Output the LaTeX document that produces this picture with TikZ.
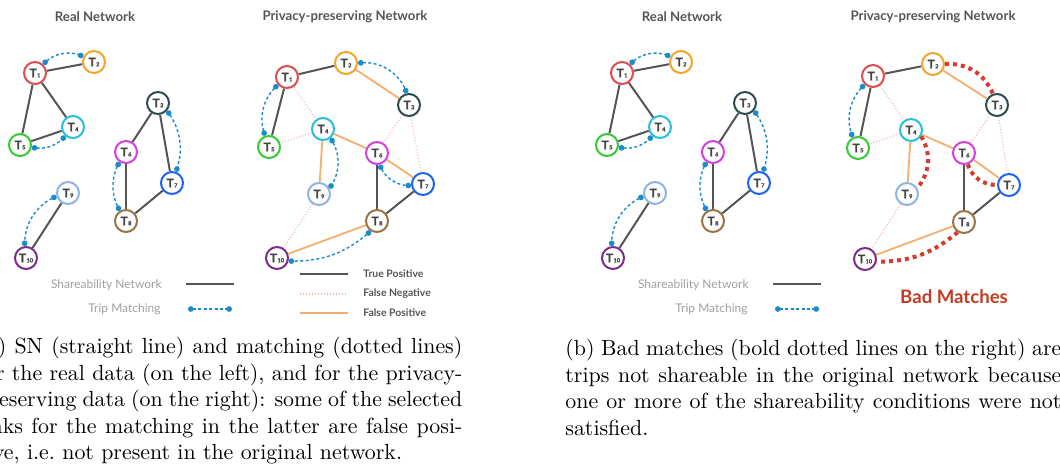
\documentclass[tikz,border=0pt]{standalone}
\usepackage{fontspec}
\usetikzlibrary{arrows.meta}
\newfontfamily\gill{Lato}[BoldFeatures={FakeBold=1.2}]

\definecolor{tone}{HTML}{E04B4B}
\definecolor{ttwo}{HTML}{F5A52A}
\definecolor{tthree}{HTML}{2E4B52}
\definecolor{tfour}{HTML}{27C0D8}
\definecolor{tfive}{HTML}{33CC33}
\definecolor{tsix}{HTML}{D43FE0}
\definecolor{tseven}{HTML}{1E64F0}
\definecolor{teight}{HTML}{9B7444}
\definecolor{tnine}{HTML}{8DB4E2}
\definecolor{tten}{HTML}{7D2C8E}
\definecolor{labgray}{HTML}{444444}
\definecolor{sngray}{HTML}{555555}
\definecolor{leggray}{HTML}{A0A0A0}
\definecolor{fnpink}{HTML}{F4B4B4}
\definecolor{fporange}{HTML}{F4AE6E}
\definecolor{mblue}{HTML}{1A8CCB}
\definecolor{badred}{HTML}{D63B30}
\definecolor{badtext}{HTML}{C23B22}

\newfontfamily\plain{Lato}
\newcommand{\tlab}[1]{T\kern0.2pt{\fontsize{2.8pt}{3pt}\selectfont #1}}

\begin{document}
\begin{tikzpicture}[
  x=0.5pt, y=-0.5pt,
  trip/.style={circle, draw, line width=1pt, fill=white, minimum size=11pt, inner sep=0pt, text=labgray, font=\gill\bfseries\fontsize{6}{6}\selectfont},
  title/.style={font=\plain\bfseries\fontsize{6.6}{7}\selectfont, text=sngray},
  sn/.style={draw=sngray, line width=1pt},
  fneg/.style={draw=fnpink, line width=0.6pt, dash pattern=on 0.5pt off 1pt},
  fpos/.style={draw=fporange, line width=0.9pt},
  match/.style={draw=mblue, line width=0.7pt, dash pattern=on 1.5pt off 1.2pt, {Circle[length=2.8pt]}-{Circle[length=2.8pt]}},
  bad/.style={draw=badred, line width=2pt, dash pattern=on 2pt off 2pt},
  legtext/.style={font=\plain\fontsize{6}{7}\selectfont, text=leggray, anchor=east, inner sep=0pt},
  keytext/.style={font=\plain\bfseries\fontsize{5.2}{6}\selectfont, text=sngray, anchor=west, inner sep=0pt},
  caption/.style={anchor=north west, inner sep=0pt, align=justify, font=\fontsize{10.95}{13.25}\selectfont}
]
\useasboundingbox (0,0) rectangle (1060,468);
\clip (0,0) rectangle (1060,468);

% Panel (a): titles
\node[title] (titlera) at (95,17) {Real Network};
\node[title] (titlepa) at (345,17) {Privacy-preserving Network};

% Panel (a): real network trips
\node[trip, draw=tone] (ra1) at (35,73) {\tlab{1}};
\node[trip, draw=ttwo] (ra2) at (94,62) {\tlab{2}};
\node[trip, draw=tthree] (ra3) at (158,103) {\tlab{3}};
\node[trip, draw=tfour] (ra4) at (73,127) {\tlab{4}};
\node[trip, draw=tfive] (ra5) at (20,145) {\tlab{5}};
\node[trip, draw=tsix] (ra6) at (126,152) {\tlab{6}};
\node[trip, draw=tseven] (ra7) at (172,183) {\tlab{7}};
\node[trip, draw=teight] (ra8) at (126,221) {\tlab{8}};
\node[trip, draw=tnine] (ra9) at (68,193) {\tlab{9}};
\node[trip, draw=tten] (ra10) at (26,258) {\tlab{10}};

% Panel (a): shareability links
\draw[sn] (ra1) -- (ra2);
\draw[sn] (ra1) -- (ra5);
\draw[sn] (ra1) -- (ra4);
\draw[sn] (ra4) -- (ra5);
\draw[sn] (ra3) -- (ra6);
\draw[sn] (ra3) -- (ra7);
\draw[sn] (ra6) -- (ra8);
\draw[sn] (ra7) -- (ra8);
\draw[sn] (ra9) -- (ra10);

% Panel (a): trip matching
\draw[match] (ra1.48) to[bend left=30] (ra2.152);
\draw[match] (ra5.-12) to[bend right=25] (ra4.-130);
\draw[match] (ra3.-40) to[bend left=25] (ra7.70);
\draw[match] (ra6.-124) to[bend right=25] (ra8.122);
\draw[match] (ra9.-165) to[bend right=30] (ra10.97);

% Panel (a): privacy-preserving trips
\node[trip, draw=tone] (pa1) at (287,77) {\tlab{1}};
\node[trip, draw=ttwo] (pa2) at (346,63) {\tlab{2}};
\node[trip, draw=tthree] (pa3) at (409,105) {\tlab{3}};
\node[trip, draw=tfour] (pa4) at (323,129) {\tlab{4}};
\node[trip, draw=tfive] (pa5) at (269,147) {\tlab{5}};
\node[trip, draw=tsix] (pa6) at (377,153) {\tlab{6}};
\node[trip, draw=tseven] (pa7) at (423,184) {\tlab{7}};
\node[trip, draw=teight] (pa8) at (377,221) {\tlab{8}};
\node[trip, draw=tnine] (pa9) at (319,194) {\tlab{9}};
\node[trip, draw=tten] (pa10) at (277,258) {\tlab{10}};

% Panel (a): true positives, false negatives, false positives
\draw[sn] (pa1) -- (pa2);
\draw[sn] (pa1) -- (pa5);
\draw[sn] (pa6) -- (pa8);
\draw[sn] (pa7) -- (pa8);
\draw[fneg] (pa1) -- (pa4);
\draw[fneg] (pa4) -- (pa5);
\draw[fneg] (pa3) -- (pa6);
\draw[fneg] (pa3) -- (pa7);
\draw[fneg] (pa9) -- (pa10);
\draw[fpos] (pa2) -- (pa3);
\draw[fpos] (pa4) -- (pa6);
\draw[fpos] (pa6) -- (pa7);
\draw[fpos] (pa4) -- (pa9);
\draw[fpos] (pa8) -- (pa10);

% Panel (a): matching on privacy data
\draw[match] (pa2.0) to[bend left=35] (pa3.100);
\draw[match] (pa1.-140) to[bend right=30] (pa5.110);
\draw[match] (pa4.-50) to[bend left=30] (pa9.28);
\draw[match] (pa6.-78) to[bend right=30] (pa7.-172);
\draw[match] (pa8.-122) to[bend left=20] (pa10.-15);

% Panel (a): legends
\node[legtext] (snleg-a) at (162,285) {Shareability Network};
\node[legtext] (tmleg-a) at (161,309) {Trip Matching};
\coordinate (sna-l) at (186,284);
\coordinate (sna-r) at (234,284);
\coordinate (tma-l) at (188,309);
\coordinate (tma-r) at (232,309);
\draw[sn] (sna-l) -- (sna-r);
\draw[match] (tma-l) -- (tma-r);
\coordinate (tp-l) at (300,274);
\coordinate (tp-r) at (348,274);
\coordinate (fn-l) at (300,294);
\coordinate (fn-r) at (348,294);
\coordinate (fp-l) at (300,313);
\coordinate (fp-r) at (348,313);
\draw[sn] (tp-l) -- (tp-r);
\draw[fneg] (fn-l) -- (fn-r);
\draw[fpos] (fp-l) -- (fp-r);
\node[keytext] (tpleg) at (363,274) {True Positive};
\node[keytext] (fnleg) at (363,294) {False Negative};
\node[keytext] (fpleg) at (363,313) {False Positive};

% Panel (b): titles
\node[title] (titlerb) at (682,17) {Real Network};
\node[title] (titlepb) at (933,17) {Privacy-preserving Network};

% Panel (b): real network trips
\node[trip, draw=tone] (rb1) at (622,73) {\tlab{1}};
\node[trip, draw=ttwo] (rb2) at (681,62) {\tlab{2}};
\node[trip, draw=tthree] (rb3) at (745,103) {\tlab{3}};
\node[trip, draw=tfour] (rb4) at (660,127) {\tlab{4}};
\node[trip, draw=tfive] (rb5) at (607,145) {\tlab{5}};
\node[trip, draw=tsix] (rb6) at (713,152) {\tlab{6}};
\node[trip, draw=tseven] (rb7) at (759,183) {\tlab{7}};
\node[trip, draw=teight] (rb8) at (713,221) {\tlab{8}};
\node[trip, draw=tnine] (rb9) at (655,193) {\tlab{9}};
\node[trip, draw=tten] (rb10) at (613,258) {\tlab{10}};

\draw[sn] (rb1) -- (rb2);
\draw[sn] (rb1) -- (rb5);
\draw[sn] (rb1) -- (rb4);
\draw[sn] (rb4) -- (rb5);
\draw[sn] (rb3) -- (rb6);
\draw[sn] (rb3) -- (rb7);
\draw[sn] (rb6) -- (rb8);
\draw[sn] (rb7) -- (rb8);
\draw[sn] (rb9) -- (rb10);

\draw[match] (rb1.48) to[bend left=30] (rb2.152);
\draw[match] (rb5.-12) to[bend right=25] (rb4.-130);
\draw[match] (rb3.-40) to[bend left=25] (rb7.70);
\draw[match] (rb6.-124) to[bend right=25] (rb8.122);
\draw[match] (rb9.-165) to[bend right=30] (rb10.97);

% Panel (b): privacy-preserving trips
\node[trip, draw=tone] (pb1) at (873,76) {\tlab{1}};
\node[trip, draw=ttwo] (pb2) at (933,64) {\tlab{2}};
\node[trip, draw=tthree] (pb3) at (997,105) {\tlab{3}};
\node[trip, draw=tfour] (pb4) at (911,130) {\tlab{4}};
\node[trip, draw=tfive] (pb5) at (858,148) {\tlab{5}};
\node[trip, draw=tsix] (pb6) at (964,153) {\tlab{6}};
\node[trip, draw=tseven] (pb7) at (1009,185) {\tlab{7}};
\node[trip, draw=teight] (pb8) at (964,222) {\tlab{8}};
\node[trip, draw=tnine] (pb9) at (907,194) {\tlab{9}};
\node[trip, draw=tten] (pb10) at (865,259) {\tlab{10}};

\draw[sn] (pb1) -- (pb2);
\draw[sn] (pb1) -- (pb5);
\draw[sn] (pb6) -- (pb8);
\draw[sn] (pb7) -- (pb8);
\draw[fneg] (pb1) -- (pb4);
\draw[fneg] (pb4) -- (pb5);
\draw[fneg] (pb3) -- (pb6);
\draw[fneg] (pb3) -- (pb7);
\draw[fneg] (pb9) -- (pb10);
\draw[fpos] (pb2) -- (pb3);
\draw[fpos] (pb4) -- (pb6);
\draw[fpos] (pb6) -- (pb7);
\draw[fpos] (pb4) -- (pb9);
\draw[fpos] (pb8) -- (pb10);

% Panel (b): good and bad matches
\draw[match] (pb1.-135) to[bend right=30] (pb5.117);
\draw[bad] (pb2.0) to[bend left=35] (pb3.110);
\draw[bad] (pb4.-32) to[bend left=35] (pb9.30);
\draw[bad] (pb6.-72) to[bend right=35] (pb7.180);
\draw[bad] (pb8.-122) to[bend left=20] (pb10.-13);

% Panel (b): legend
\node[legtext] (snleg-b) at (749,285) {Shareability Network};
\node[legtext] (tmleg-b) at (748,309) {Trip Matching};
\coordinate (snb-l) at (773,284);
\coordinate (snb-r) at (821,284);
\coordinate (tmb-l) at (775,309);
\coordinate (tmb-r) at (819,309);
\draw[sn] (snb-l) -- (snb-r);
\draw[match] (tmb-l) -- (tmb-r);
\node[font=\plain\bfseries\fontsize{9.3}{10}\selectfont, text=badtext] (badleg) at (954,297) {Bad Matches};

% Captions
\node[caption, text width=242pt] (capa) at (-22,337) {(a) SN (straight line) and matching (dotted lines)\linebreak
for the real data (on the left), and for the privacy-\linebreak
preserving data (on the right): some of the selected\linebreak
links for the matching in the latter are false posi-\linebreak
tive, i.e.\ not present in the original network.};
\node[caption, text width=248pt] (capb) at (565,339) {(b) Bad matches (bold dotted lines on the right) are\linebreak
trips not shareable in the original network because\linebreak
one or more of the shareability conditions were not\linebreak
satisfied.};

\end{tikzpicture}
\end{document}
